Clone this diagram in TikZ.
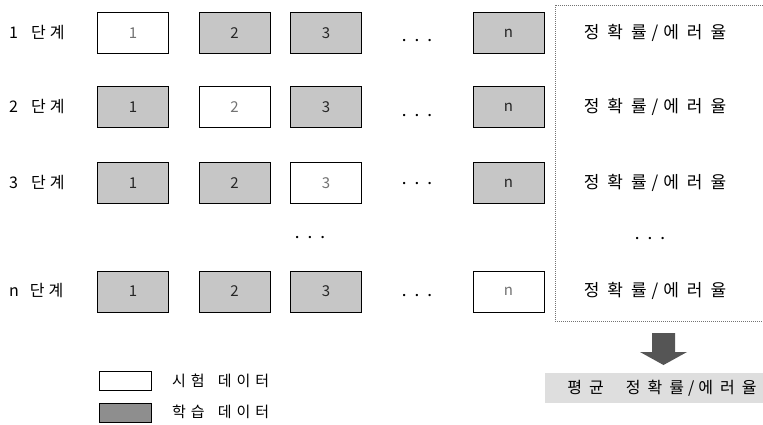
\documentclass[tikz,border=0pt]{standalone}
\usepackage{fontspec}
\newfontfamily\kr{Noto Sans CJK KR}
\newfontfamily\dv{DejaVu Sans}
\definecolor{gtrain}{HTML}{C6C6C6}
\definecolor{glegend}{HTML}{8E8E8E}
\definecolor{garrow}{HTML}{555555}
\definecolor{gbg}{HTML}{DEDEDE}
\newcommand\accerr{정\hspace{8pt}확\hspace{8pt}률\hspace{5pt}/\hspace{5pt}에\hspace{8pt}러\hspace{8pt}율}
\newcommand\dotsrow{•\hspace{8pt}•\hspace{8pt}•}
\tikzset{
  fold/.style={draw=black, line width=0.8pt, minimum width=71pt, minimum height=41pt, inner sep=0pt,
    font=\kr\fontsize{15}{15}\selectfont},
  trainbox/.style={fold, fill=gtrain, text=black!85},
  testbox/.style={fold, fill=white, text=black!55},
  rowlabel/.style={anchor=west, inner sep=0pt, font=\kr\fontsize{16}{16}\selectfont},
  accnode/.style={inner sep=0pt, font=\kr\fontsize{17}{17}\selectfont},
  ell/.style={inner sep=0pt, font=\dv\fontsize{8}{8}\selectfont},
  legbox/.style={draw=black, line width=0.7pt, minimum width=52pt, minimum height=19pt, inner sep=0pt},
  legtext/.style={anchor=west, inner sep=0pt, font=\kr\fontsize{15}{15}\selectfont},
}
\begin{document}
\begin{tikzpicture}[x=1pt,y=-1pt]
\useasboundingbox (0,0) rectangle (763,424);
% row labels
\node[rowlabel] (l1) at (9,33) {1\hspace{13pt}단\hspace{4pt}계};
\node[rowlabel] (l2) at (9,107) {2\hspace{13pt}단\hspace{4pt}계};
\node[rowlabel] (l3) at (9,183) {3\hspace{13pt}단\hspace{4pt}계};
\node[rowlabel] (ln) at (9,291) {n\hspace{11pt}단\hspace{4pt}계};
% row 1
\node[testbox]  (b11) at (133,33) {1};
\node[trainbox] (b12) at (234.5,33) {2};
\node[trainbox] (b13) at (326,33) {3};
\node[ell]      (e1)  at (417,41) {\dotsrow};
\node[trainbox] (b1n) at (508.5,33) {n};
% row 2
\node[trainbox] (b21) at (133,107) {1};
\node[testbox]  (b22) at (234.5,107) {2};
\node[trainbox] (b23) at (326,107) {3};
\node[ell]      (e2)  at (417,116) {\dotsrow};
\node[trainbox] (b2n) at (508.5,107) {n};
% row 3
\node[trainbox] (b31) at (133,183) {1};
\node[trainbox] (b32) at (234.5,183) {2};
\node[testbox]  (b33) at (326,183) {3};
\node[ell]      (e3)  at (417,184) {\dotsrow};
\node[trainbox] (b3n) at (508.5,183) {n};
% middle ellipsis
\node[ell] (em) at (310,238) {\dotsrow};
% row n
\node[trainbox] (bn1) at (133,291.5) {1};
\node[trainbox] (bn2) at (234.5,291.5) {2};
\node[trainbox] (bn3) at (326,291.5) {3};
\node[ell]      (en)  at (417,296) {\dotsrow};
\node[testbox]  (bnn) at (508.5,291.5) {n};
% result frame
\draw[black!55, line width=0.6pt, dash pattern=on 1pt off 1pt] (763,5) -- (555,5) -- (555,321) -- (763,321);
\node[accnode] (a1) at (655,33) {\accerr};
\node[accnode] (a2) at (655,107) {\accerr};
\node[accnode] (a3) at (655,183) {\accerr};
\node[ell]     (ea) at (650,239) {\dotsrow};
\node[accnode] (an) at (655,291) {\accerr};
% big arrow
\fill[garrow] (652,333) -- (675,333) -- (675,352) -- (687,352) -- (663.5,365) -- (640,352) -- (652,352) -- cycle;
% average
\node[fill=gbg, minimum width=218pt, minimum height=30pt, inner sep=0pt] (avgbg) at (654,388) {};
\node[inner sep=0pt, font=\kr\fontsize{16}{16}\selectfont] (avg) at (662,388)
  {평\hspace{7pt}균\hspace{22pt}정\hspace{7pt}확\hspace{7pt}률\hspace{4pt}/\hspace{4pt}에\hspace{7pt}러\hspace{7pt}율};
% legend
\node[legbox, fill=white] (lw) at (125,380.5) {};
\node[legtext] (lwt) at (172,381) {시\hspace{5pt}험\hspace{13pt}데\hspace{5pt}이\hspace{5pt}터};
\node[legbox, fill=glegend] (lg) at (125,413) {};
\node[legtext] (lgt) at (172,412) {학\hspace{5pt}습\hspace{13pt}데\hspace{5pt}이\hspace{5pt}터};
\end{tikzpicture}
\end{document}
